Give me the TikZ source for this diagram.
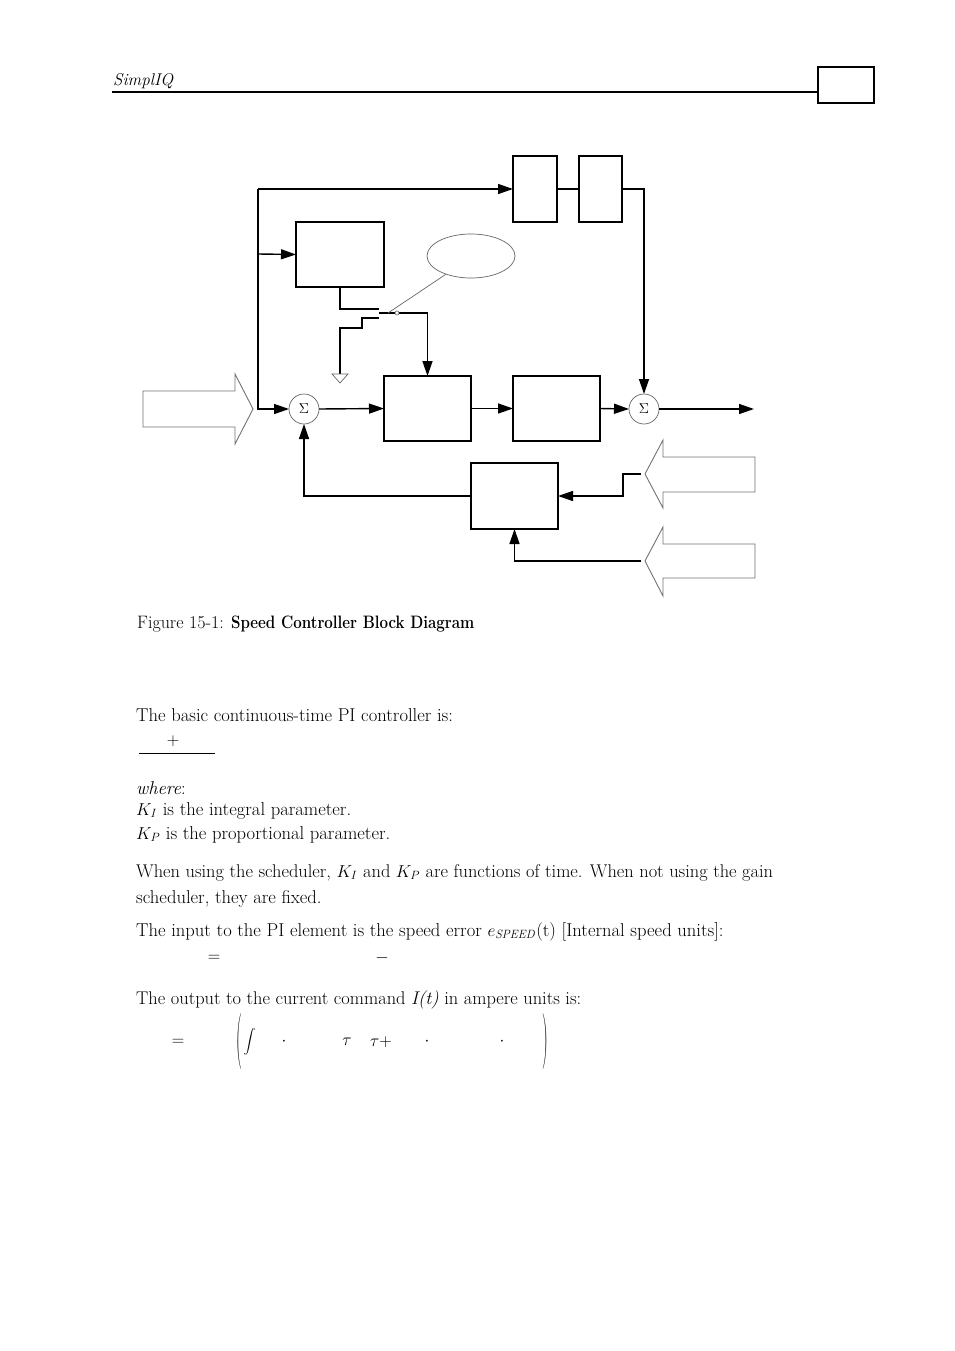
\documentclass[tikz,border=0pt]{standalone}
\usepackage{amsmath}
\usetikzlibrary{arrows.meta,shapes.geometric}
\begin{document}
\begin{tikzpicture}[x=1pt,y=-1pt]
\tikzset{
 blk/.style={draw, line width=1.3pt, inner sep=0pt, outer sep=0pt, rectangle},
 sumn/.style={draw=black!60, line width=0.7pt, circle, minimum size=30pt, inner sep=0pt, outer sep=0pt, font=\fontsize{14}{14}\selectfont},
 wire/.style={line width=1.4pt},
 arr/.style={wire, -{Triangle[length=15pt,width=10pt]}},
 thinline/.style={draw=black!60, line width=0.7pt},
 bigarrow/.style={draw=black!55, line width=0.9pt, line join=miter},
 txt/.style={anchor=base west, inner sep=0pt, font=\fontsize{18.6}{22}\selectfont},
 sym/.style={inner sep=0pt, font=\fontsize{18}{20}\selectfont},
}
\useasboundingbox (0,0) rectangle (954,1351);
\fill[white] (0,0) rectangle (954,1351);

% header
\node[txt, font=\fontsize{17}{20}\selectfont\itshape] (hdr) at (113,86) {SimplIQ};
\draw[line width=2pt] (112,92) -- (818,92);
\node[blk, minimum width=56pt, minimum height=36pt] (pg) at (846,85) {};

% blocks
\node[blk,minimum width=44pt,minimum height=66pt] (A) at (535,189) {};
\node[blk,minimum width=43pt,minimum height=66pt] (B) at (600.5,189) {};
\node[blk,minimum width=88pt,minimum height=65pt] (C) at (340,254.5) {};
\node[blk,minimum width=87pt,minimum height=65pt] (D) at (427.5,408.5) {};
\node[blk,minimum width=87pt,minimum height=65pt] (E) at (556.5,408.5) {};
\node[blk,minimum width=87pt,minimum height=66pt] (F) at (514.5,496) {};
\node[sumn] (s1) at (304,409) {$\Sigma$};
\node[sumn] (s2) at (644,409) {$\Sigma$};
\node[ellipse, draw=black!60, line width=0.7pt, minimum width=88pt, minimum height=44pt, inner sep=0pt] (ell) at (471,256) {};

% wires
\coordinate (j1) at (258,189);
\coordinate (j3) at (258,254);
\draw[arr] (j1) -- (A.west);
\draw[arr] (j1) |- (s1.west);
\draw[arr] (j3) -- (C.west);
\draw[wire] (A.east) -- (B.west);
\draw[arr] (B.east) -| (s2.north);

% switch
\coordinate (swa) at (379,309);
\coordinate (swb) at (379,313);
\coordinate (swc) at (405,313);
\coordinate (swd) at (427.5,313);
\coordinate (swe) at (379,318);
\coordinate (gnd) at (340,374);
\draw[wire] (C.south) |- (swa);
\draw[wire] (swb) -- (swc) -- (swd);
\draw[arr] (swd) -- (D.north);
\draw[wire] (swe) -- (362,318) -- (362,328) -| (gnd);
\draw[thinline, line join=miter] (332,374) -- (348,374) -- (340,383) -- cycle;
\draw[thinline] (ell.216) -- (388,313);
\draw[black!60, line width=0.6pt, fill=white] (397,313) circle (2pt);

% main path
\draw[arr] (s1.east) -- (D.west);
\draw[arr] (D.east) -- (E.west);
\draw[arr] (E.east) -- (s2.west);
\coordinate (out) at (754,409);
\draw[arr] (s2.east) -- (out);
\draw[arr] (F.west) -| (s1.south);

% big arrows
\draw[bigarrow] (143,391) -- (235,391) -- (235,374) -- (253,409) -- (235,444) -- (235,427) -- (143,427) -- cycle;
\draw[bigarrow] (755,457) -- (663,457) -- (663,440) -- (645,474) -- (663,508) -- (663,492) -- (755,492) -- cycle;
\draw[bigarrow] (755,544) -- (663,544) -- (663,527) -- (645,561) -- (663,596) -- (663,578) -- (755,578) -- cycle;
\coordinate (r1) at (641,474);
\coordinate (r2) at (641,561);
\draw[arr] (r1) -- (623,474) |- (F.east);
\draw[arr] (r2) -| (F.south);

% caption and text
\node[txt, font=\fontsize{18}{20}\selectfont] (cap) at (137,628) {Figure 15-1: \scalebox{0.84}[1]{\textbf{Speed Controller Block Diagram}}};
\node[txt] (t1) at (136,721) {The basic continuous-time PI controller is:};
\node[sym] (plus1) at (173,741) {$+$};
\draw[line width=0.8pt] (139,753) -- (215,753);
\node[txt] (t2) at (136,794) {\textit{where}:};
\node[txt] (t3) at (136,815) {$K_I$ is the integral parameter.};
\node[txt] (t4) at (136,839) {$K_P$ is the proportional parameter.};
\node[txt, font=\fontsize{18.4}{22}\selectfont] (t5) at (136,877) {When using the scheduler, $K_I$ and $K_P$ are functions of time. When not using the gain};
\node[txt] (t6) at (136,903) {scheduler, they are fixed.};
\node[txt] (t7) at (136,936) {The input to the PI element is the speed error $e_{\mathit{SPEED}}$(t) [Internal speed units]:};
\node[sym] (eq1) at (214,958) {$=$};
\node[sym] (mi1) at (382,958) {$-$};
\node[txt, font=\fontsize{18.4}{22}\selectfont] (t8) at (136,1004) {The output to the current command \textit{I(t)} in ampere units is:};
\node[sym] (eq2) at (178,1042) {$=$};
\node[sym] (lp) at (239.5,1041.5) {\scalebox{0.9}[3.1]{(}};
\node[sym, font=\fontsize{13}{15}\selectfont] (int) at (249.5,1042) {$\displaystyle\int$};
\node[sym] (d1) at (284,1042) {$\cdot$};
\node[sym] (tau1) at (347,1042) {$\tau$};
\node[sym] (tau2) at (381,1042) {$\tau+$};
\node[sym] (d2) at (427,1042) {$\cdot$};
\node[sym] (d3) at (502,1042) {$\cdot$};
\node[sym] (rp) at (545.5,1041.5) {\scalebox{0.9}[3.1]{)}};
\end{tikzpicture}
\end{document}
